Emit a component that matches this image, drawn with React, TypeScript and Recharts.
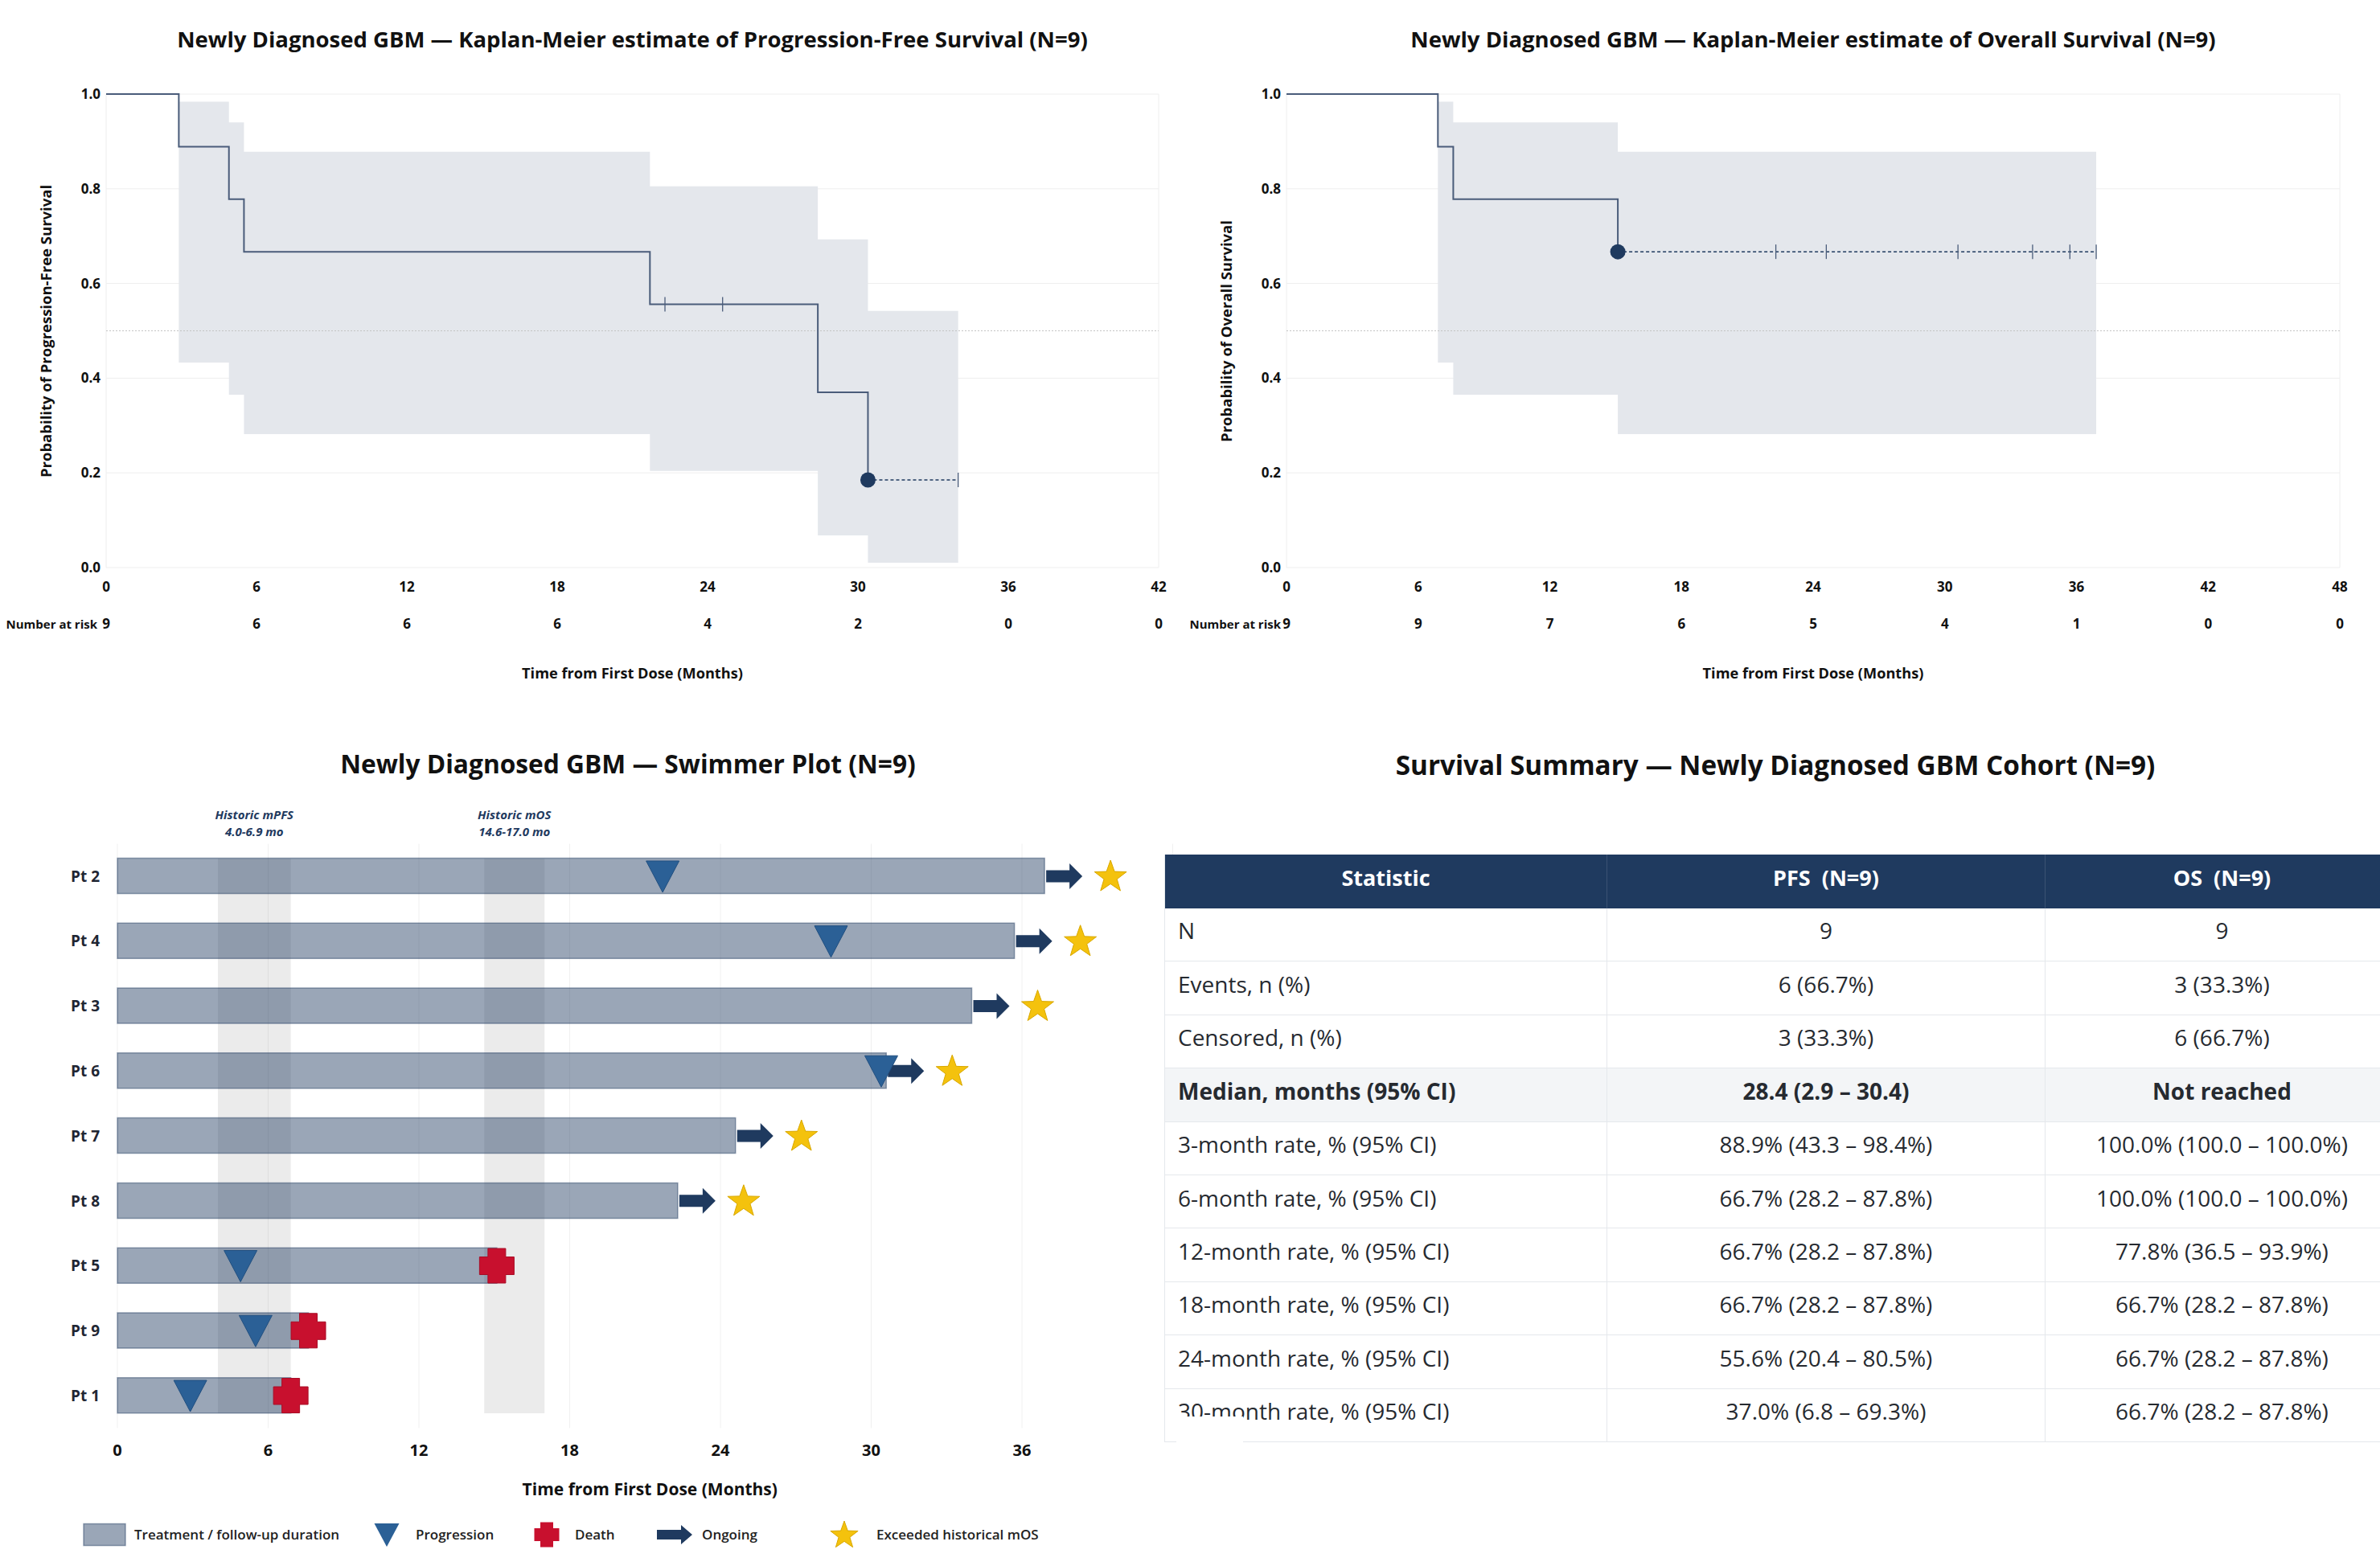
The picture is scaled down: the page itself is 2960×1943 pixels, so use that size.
import React from "react";
import {
  ComposedChart,
  Line,
  Area,
  Scatter,
  Bar,
  XAxis,
  YAxis,
  CartesianGrid,
  ReferenceLine,
  ReferenceArea,
} from "recharts";

const FONT = "'Open Sans', 'Noto Sans', sans-serif";
const NAVY = "#1f3a5f";
const CURVE = "#4a5c7a";
const CI_FILL = "#e4e7ec";

// ---- PFS Kaplan-Meier ----
const pfsTimes = [0, 2.9, 4.9, 5.5, 21.7, 28.4, 30.4];
const pfsSurv = [1, 0.889, 0.778, 0.667, 0.556, 0.37, 0.185];
const pfsLower = [null, 0.433, 0.365, 0.282, 0.204, 0.068, 0.01];
const pfsUpper = [null, 0.984, 0.94, 0.878, 0.805, 0.693, 0.542];
const pfsCensored = [22.3, 24.6, 34.0];
const pfsRiskTimes = [0, 6, 12, 18, 24, 30, 36, 42];
const pfsRiskCounts = [9, 6, 6, 6, 4, 2, 0, 0];

// ---- OS Kaplan-Meier ----
const osTimes = [0, 6.9, 7.6, 15.1];
const osSurv = [1, 0.889, 0.778, 0.667];
const osLower = [null, 0.433, 0.365, 0.282];
const osUpper = [null, 0.984, 0.94, 0.878];
const osCensored = [22.3, 24.6, 30.6, 34.0, 35.7, 36.9];
const osRiskTimes = [0, 6, 12, 18, 24, 30, 36, 42, 48];
const osRiskCounts = [9, 9, 7, 6, 5, 4, 1, 0, 0];

const probTicks = [0, 0.2, 0.4, 0.6, 0.8, 1.0];

// ---- Swimmer plot (top to bottom) ----
const swimPatients = ["Pt 2", "Pt 4", "Pt 3", "Pt 6", "Pt 7", "Pt 8", "Pt 5", "Pt 9", "Pt 1"];
const swimDuration = [36.9, 35.7, 34.0, 30.6, 24.6, 22.3, 15.1, 7.6, 6.9];
const swimProgression = [21.7, 28.4, null, 30.4, null, null, 4.9, 5.5, 2.9];
const swimDeath = [null, null, null, null, null, null, 15.1, 7.6, 6.9];
const swimOngoing = [true, true, true, true, true, true, false, false, false];
const swimExceededMos = [true, true, true, true, true, true, false, false, false];
const swimTicks = [0, 6, 12, 18, 24, 30, 36];
const historicPfs = [4.0, 6.9];
const historicOs = [14.6, 17.0];

// ---- Summary table ----
const tableHeader = ["Statistic", "PFS  (N=9)", "OS  (N=9)"];
const tableStats = [
  "N",
  "Events, n (%)",
  "Censored, n (%)",
  "Median, months (95% CI)",
  "3-month rate, % (95% CI)",
  "6-month rate, % (95% CI)",
  "12-month rate, % (95% CI)",
  "18-month rate, % (95% CI)",
  "24-month rate, % (95% CI)",
  "30-month rate, % (95% CI)",
];
const tablePfs = [
  "9",
  "6 (66.7%)",
  "3 (33.3%)",
  "28.4 (2.9 – 30.4)",
  "88.9% (43.3 – 98.4%)",
  "66.7% (28.2 – 87.8%)",
  "66.7% (28.2 – 87.8%)",
  "66.7% (28.2 – 87.8%)",
  "55.6% (20.4 – 80.5%)",
  "37.0% (6.8 – 69.3%)",
];
const tableOs = [
  "9",
  "3 (33.3%)",
  "6 (66.7%)",
  "Not reached",
  "100.0% (100.0 – 100.0%)",
  "100.0% (100.0 – 100.0%)",
  "77.8% (36.5 – 93.9%)",
  "66.7% (28.2 – 87.8%)",
  "66.7% (28.2 – 87.8%)",
  "66.7% (28.2 – 87.8%)",
];
const boldStat = "Median, months (95% CI)";

function buildKm(times: number[], surv: number[], lower: (number | null)[], upper: (number | null)[], censored: number[]) {
  const last = times.length - 1;
  const end = Math.max(times[last], ...censored);
  const curve = times.map((t, i) => ({ t, s: surv[i] }));
  const band: any[] = [];
  times.forEach((t, i) => {
    if (lower[i] != null) band.push({ t, ci: [lower[i], upper[i]] });
  });
  band.push({ t: end, ci: band[band.length - 1].ci });
  const survAt = (x: number) => {
    let s = 1;
    times.forEach((t, i) => {
      if (t <= x) s = surv[i];
    });
    return s;
  };
  const ticks = censored.map((t) => ({ t, s: survAt(t) }));
  const tail = [
    { t: times[last], s: surv[last] },
    { t: end, s: surv[last] },
  ];
  const lastEvent = [{ t: times[last], s: surv[last] }];
  return { curve, band, ticks, tail, lastEvent };
}

const CensorTick = (props: any) => {
  const { cx, cy } = props;
  if (cx == null || cy == null) return null;
  return <line x1={cx} x2={cx} y1={cy - 9} y2={cy + 9} stroke={CURVE} strokeWidth={1.3} />;
};

const EventDot = (props: any) => {
  const { cx, cy } = props;
  if (cx == null || cy == null) return null;
  return <circle cx={cx} cy={cy} r={9.5} fill={NAVY} />;
};

// x tick with the number-at-risk count underneath
const KmTick = (props: any) => {
  const { x, y, payload, riskMap } = props;
  const style = { fontSize: 17, fontWeight: 700, fill: "#111", fontFamily: FONT };
  return (
    <g>
      <text x={x} y={y} dy="0.71em" textAnchor="middle" {...style}>
        {payload.value}
      </text>
      <text x={x} y={y + 46} dy="0.71em" textAnchor="middle" {...style}>
        {riskMap[payload.value]}
      </text>
    </g>
  );
};

function Txt(props: any) {
  const { x, y, size, weight = 700, anchor = "middle", color = "#111", italic, children } = props;
  const tx = anchor === "middle" ? "-50%" : anchor === "end" ? "-100%" : "0";
  return (
    <div
      style={{
        position: "absolute",
        left: x,
        top: y,
        transform: `translate(${tx}, -50%)`,
        fontSize: size,
        fontWeight: weight,
        fontStyle: italic ? "italic" : "normal",
        color,
        whiteSpace: "pre",
        lineHeight: 1.2,
        fontFamily: FONT,
      }}
    >
      {children}
    </div>
  );
}

function KmPanel(props: any) {
  const { left, title, yLabel, xMax, km, riskTimes, riskCounts, axisWidth, rightMargin, riskLabelRight } = props;
  const width = 1480;
  const height = 870;
  const riskMap: Record<number, number> = {};
  riskTimes.forEach((t: number, i: number) => (riskMap[t] = riskCounts[i]));
  const plotCenter = axisWidth + (width - axisWidth - rightMargin) / 2;
  const tickFont = { fontSize: 17, fontWeight: 700, fill: "#111", fontFamily: FONT };
  return (
    <div style={{ position: "absolute", left, top: 0, width, height }}>
      <ComposedChart width={width} height={height} margin={{ top: 117, right: rightMargin, bottom: 54, left: 0 }}>
        <CartesianGrid
          stroke="#eeeeee"
          verticalCoordinatesGenerator={(p: any) => [p.offset.left, p.offset.left + p.offset.width]}
        />
        <XAxis
          dataKey="t"
          type="number"
          domain={[0, xMax]}
          ticks={riskTimes}
          interval={0}
          height={110}
          axisLine={false}
          tickLine={false}
          tickSize={0}
          tickMargin={18}
          tick={<KmTick riskMap={riskMap} />}
        />
        <YAxis
          type="number"
          domain={[0, 1]}
          ticks={probTicks}
          interval={0}
          width={axisWidth}
          axisLine={false}
          tickLine={false}
          tickSize={0}
          tickMargin={7}
          tick={tickFont}
          tickFormatter={(v: number) => v.toFixed(1)}
        />
        <Area
          data={km.band}
          dataKey="ci"
          type="stepAfter"
          stroke="none"
          fill={CI_FILL}
          fillOpacity={1}
          isAnimationActive={false}
        />
        <ReferenceLine y={0.5} stroke="#c4c4c4" strokeDasharray="2 2" strokeWidth={1} />
        <Line
          data={km.curve}
          dataKey="s"
          type="stepAfter"
          stroke={CURVE}
          strokeWidth={2}
          dot={false}
          activeDot={false}
          isAnimationActive={false}
        />
        <Line
          data={km.tail}
          dataKey="s"
          type="linear"
          stroke={NAVY}
          strokeWidth={1.5}
          strokeDasharray="4 3"
          dot={false}
          activeDot={false}
          isAnimationActive={false}
        />
        <Scatter data={km.ticks} dataKey="s" shape={CensorTick} isAnimationActive={false} />
        <Scatter data={km.lastEvent} dataKey="s" shape={EventDot} isAnimationActive={false} />
      </ComposedChart>
      <Txt x={plotCenter} y={48} size={27.5}>
        {title}
      </Txt>
      <Txt x={riskLabelRight} y={776} size={15} anchor="end">
        Number at risk
      </Txt>
      <Txt x={plotCenter} y={838} size={18.2}>
        Time from First Dose (Months)
      </Txt>
      <div
        style={{
          position: "absolute",
          left: axisWidth - 76,
          top: 411.5,
          transform: "translate(-50%, -50%) rotate(-90deg)",
          fontSize: 18.5,
          fontWeight: 700,
          color: "#111",
          whiteSpace: "nowrap",
          fontFamily: FONT,
        }}
      >
        {yLabel}
      </div>
    </div>
  );
}

// ---- swimmer marker shapes ----
const ProgressionMark = (props: any) => {
  const { cx, cy } = props;
  if (cx == null || cy == null) return null;
  return (
    <polygon
      points={`${cx - 20.5},${cy - 19} ${cx + 20.5},${cy - 19} ${cx},${cy + 20}`}
      fill="#2b6096"
      stroke="#214f80"
      strokeWidth={1}
    />
  );
};

function crossPath(cx: number, cy: number, h: number, a: number) {
  return `M${cx - a},${cy - h} H${cx + a} V${cy - a} H${cx + h} V${cy + a} H${cx + a} V${cy + h} H${cx - a} V${cy + a} H${cx - h} V${cy - a} H${cx - a} Z`;
}

const DeathMark = (props: any) => {
  const { cx, cy } = props;
  if (cx == null || cy == null) return null;
  return <path d={crossPath(cx, cy, 21.5, 11)} fill="#c8102e" stroke="#a80d26" strokeWidth={1} />;
};

function arrowPoints(x0: number, cy: number, len: number, shaft: number, head: number, headLen: number) {
  const xs = x0 + len - headLen;
  return `${x0},${cy - shaft} ${xs},${cy - shaft} ${xs},${cy - head} ${x0 + len},${cy} ${xs},${cy + head} ${xs},${cy + shaft} ${x0},${cy + shaft}`;
}

const OngoingMark = (props: any) => {
  const { cx, cy } = props;
  if (cx == null || cy == null) return null;
  return <polygon points={arrowPoints(cx + 2, cy, 45, 7.5, 16, 16)} fill={NAVY} />;
};

function starPoints(cx: number, cy: number, R: number, r: number) {
  const pts: string[] = [];
  for (let i = 0; i < 10; i++) {
    const a = -Math.PI / 2 + (i * Math.PI) / 5;
    const rad = i % 2 === 0 ? R : r;
    pts.push(`${cx + rad * Math.cos(a)},${cy + rad * Math.sin(a)}`);
  }
  return pts.join(" ");
}

const StarMark = (props: any) => {
  const { cx, cy } = props;
  if (cx == null || cy == null) return null;
  return <polygon points={starPoints(cx + 82, cy + 1, 21, 8.5)} fill="#f4c20d" stroke="#d9a800" strokeWidth={1} />;
};

function SwimmerPanel() {
  const width = 1470;
  const height = 960;
  const margin = { top: 149.6, right: 11.5, bottom: 33.6, left: 0 };
  const axisWidth = 146;
  const xAxisHeight = 50;
  const barSize = 44;
  const n = swimPatients.length;
  const rowPx = (height - margin.top - margin.bottom - xAxisHeight) / n;
  const barHalf = barSize / 2 / rowPx;

  // row 1 is drawn at the top
  const rows = swimPatients.map((p, i) => ({ row: i + 1, name: p, dur: swimDuration[i] }));
  const prog = rows.filter((_, i) => swimProgression[i] != null).map((r) => ({ row: r.row, t: swimProgression[r.row - 1] }));
  const deaths = rows.filter((_, i) => swimDeath[i] != null).map((r) => ({ row: r.row, t: swimDeath[r.row - 1] }));
  const ongoing = rows.filter((_, i) => swimOngoing[i]).map((r) => ({ row: r.row, t: r.dur }));
  const exceeded = rows.filter((_, i) => swimExceededMos[i]).map((r) => ({ row: r.row, t: r.dur }));

  const bandLabel = (lines: string[]) => (p: any) => {
    const vb = p.viewBox;
    if (!vb) return null;
    const cx = vb.x + vb.width / 2;
    return (
      <text
        x={cx}
        y={vb.y - 49}
        textAnchor="middle"
        fontFamily={FONT}
        fontSize={15}
        fontWeight={700}
        fontStyle="italic"
        fill={NAVY}
      >
        <tspan x={cx}>{lines[0]}</tspan>
        <tspan x={cx} dy={21}>
          {lines[1]}
        </tspan>
      </text>
    );
  };

  const plotCenter = axisWidth + (width - axisWidth - margin.right) / 2;

  return (
    <div style={{ position: "absolute", left: 0, top: 900, width, height }}>
      <ComposedChart layout="vertical" width={width} height={height} data={rows} margin={margin}>
        <CartesianGrid horizontal={false} stroke="#f0f0f0" />
        <XAxis
          type="number"
          domain={[0, 42]}
          ticks={swimTicks}
          interval={0}
          height={xAxisHeight}
          axisLine={false}
          tickLine={false}
          tickSize={0}
          tickMargin={20}
          tick={{ fontSize: 20, fontWeight: 700, fill: "#111", fontFamily: FONT }}
        />
        <YAxis
          type="number"
          dataKey="row"
          domain={[0.5, n + 0.5]}
          ticks={rows.map((r) => r.row)}
          interval={0}
          width={axisWidth}
          axisLine={false}
          tickLine={false}
          tickSize={0}
          tickMargin={22}
          tick={{ fontSize: 19, fontWeight: 700, fill: "#1f2633", fontFamily: FONT }}
          tickFormatter={(v: number) => swimPatients[v - 1] ?? ""}
        />
        <ReferenceArea
          x1={historicPfs[0]}
          x2={historicPfs[1]}
          y1={1 - barHalf}
          y2={n + barHalf}
          fill="#000"
          fillOpacity={0.078}
          stroke="none"
          label={bandLabel(["Historic mPFS", "4.0-6.9 mo"])}
        />
        <ReferenceArea
          x1={historicOs[0]}
          x2={historicOs[1]}
          y1={1 - barHalf}
          y2={n + barHalf}
          fill="#000"
          fillOpacity={0.078}
          stroke="none"
          label={bandLabel(["Historic mOS", "14.6-17.0 mo"])}
        />
        <Bar
          dataKey="dur"
          barSize={barSize}
          fill={NAVY}
          fillOpacity={0.45}
          stroke={NAVY}
          strokeOpacity={0.45}
          strokeWidth={1.5}
          isAnimationActive={false}
        />
        <Scatter data={ongoing} dataKey="t" shape={OngoingMark} isAnimationActive={false} />
        <Scatter data={exceeded} dataKey="t" shape={StarMark} isAnimationActive={false} />
        <Scatter data={prog} dataKey="t" shape={ProgressionMark} isAnimationActive={false} />
        <Scatter data={deaths} dataKey="t" shape={DeathMark} isAnimationActive={false} />
      </ComposedChart>
      <Txt x={781} y={50} size={31.7}>
        Newly Diagnosed GBM — Swimmer Plot (N=9)
      </Txt>
      <Txt x={plotCenter + 6} y={953} size={21}>
        Time from First Dose (Months)
      </Txt>
    </div>
  );
}

function SwimmerLegend() {
  const y = 1909;
  const label = (x: number, text: string) => (
    <Txt x={x} y={y} size={17} weight={600} anchor="start" color="#222">
      {text}
    </Txt>
  );
  return (
    <>
      <svg style={{ position: "absolute", left: 0, top: y - 30, width: 1200, height: 60 }} width={1200} height={60}>
        <rect x={104} y={16.5} width={52} height={27} fill={NAVY} fillOpacity={0.45} stroke={NAVY} strokeOpacity={0.45} strokeWidth={1.5} />
        <polygon points={`${481 - 15.5},${16} ${481 + 15.5},${16} ${481},${45}`} fill="#2b6096" />
        <path d={crossPath(680, 30, 15.5, 8)} fill="#c8102e" />
        <polygon points={arrowPoints(817, 30, 44, 6, 12, 14)} fill={NAVY} />
        <polygon points={starPoints(1050, 31, 18, 7.3)} fill="#f4c20d" stroke="#d9a800" strokeWidth={1} />
      </svg>
      {label(167, "Treatment / follow-up duration")}
      {label(517, "Progression")}
      {label(715, "Death")}
      {label(873, "Ongoing")}
      {label(1090, "Exceeded historical mOS")}
    </>
  );
}

function SummaryTable() {
  const colW = [550, 545, 440];
  const border = "1px solid #e5e8ec";
  const cell = (align: "left" | "center", extra: any = {}) => ({
    textAlign: align,
    padding: align === "left" ? "0 0 10px 16px" : "0 0 10px 0",
    borderBottom: border,
    borderRight: border,
    verticalAlign: "middle" as const,
    whiteSpace: "pre" as const,
    overflow: "hidden",
    ...extra,
  });
  return (
    <>
      <Txt x={2208} y={952} size={33.3}>
        Survival Summary — Newly Diagnosed GBM Cohort (N=9)
      </Txt>
      <table
        style={{
          position: "absolute",
          left: 1448,
          top: 1063,
          borderCollapse: "collapse",
          tableLayout: "fixed",
          width: colW.reduce((a, b) => a + b, 0),
          fontFamily: FONT,
          borderLeft: border,
        }}
      >
        <colgroup>
          {colW.map((w, i) => (
            <col key={i} style={{ width: w }} />
          ))}
        </colgroup>
        <thead>
          <tr style={{ height: 66.5, background: NAVY }}>
            {tableHeader.map((h, i) => (
              <th
                key={i}
                style={{
                  color: "#fff",
                  fontSize: 27,
                  fontWeight: 700,
                  textAlign: "center",
                  whiteSpace: "pre",
                  borderRight: "1px solid #3b5273",
                  padding: "0 0 10px 0",
                }}
              >
                {h}
              </th>
            ))}
          </tr>
        </thead>
        <tbody>
          {tableStats.map((s, i) => {
            const bold = s === boldStat;
            const extra = { fontWeight: bold ? 700 : 400, background: bold ? "#f3f5f7" : "#fff", fontSize: 28, color: "#262a30" };
            return (
              <tr key={s} style={{ height: 66.4 }}>
                <td style={cell("left", extra)}>{s}</td>
                <td style={cell("center", extra)}>{tablePfs[i]}</td>
                <td style={cell("center", extra)}>{tableOs[i]}</td>
              </tr>
            );
          })}
        </tbody>
      </table>
      <div style={{ position: "absolute", left: 1463, top: 1762, width: 83, height: 36, background: "#fff" }} />
    </>
  );
}

export default function App() {
  const pfsKm = buildKm(pfsTimes, pfsSurv, pfsLower, pfsUpper, pfsCensored);
  const osKm = buildKm(osTimes, osSurv, osLower, osUpper, osCensored);
  return (
    <div
      style={{
        position: "absolute",
        left: 0,
        top: 0,
        width: 2960,
        height: 1943,
        overflow: "hidden",
        background: "#fff",
        fontFamily: FONT,
      }}
    >
      <KmPanel
        left={0}
        title="Newly Diagnosed GBM — Kaplan-Meier estimate of Progression-Free Survival (N=9)"
        yLabel="Probability of Progression-Free Survival"
        xMax={42}
        km={pfsKm}
        riskTimes={pfsRiskTimes}
        riskCounts={pfsRiskCounts}
        axisWidth={132}
        rightMargin={39}
        riskLabelRight={121}
      />
      <KmPanel
        left={1480}
        title="Newly Diagnosed GBM — Kaplan-Meier estimate of Overall Survival (N=9)"
        yLabel="Probability of Overall Survival"
        xMax={48}
        km={osKm}
        riskTimes={osRiskTimes}
        riskCounts={osRiskCounts}
        axisWidth={120}
        rightMargin={50}
        riskLabelRight={113}
      />
      <SwimmerPanel />
      <SwimmerLegend />
      <SummaryTable />
    </div>
  );
}
